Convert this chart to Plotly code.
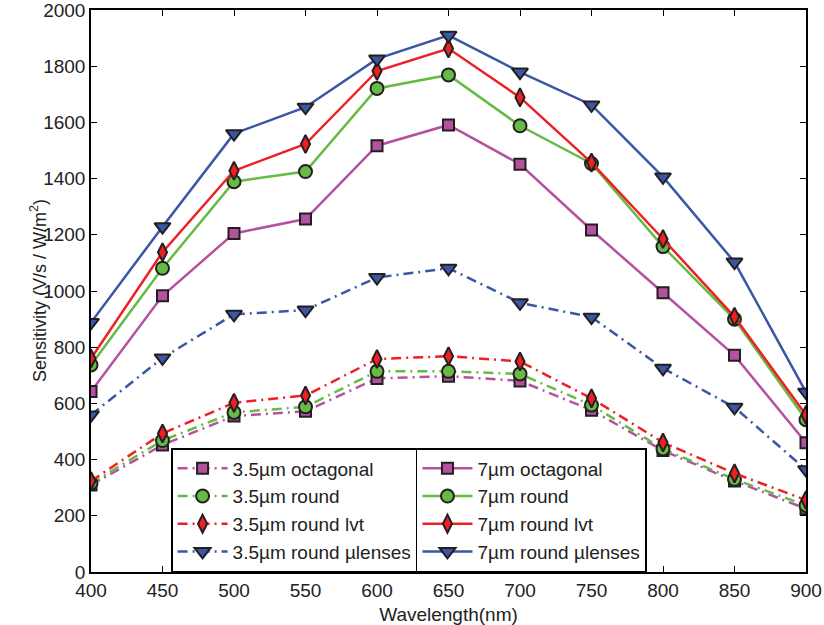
import plotly.graph_objects as go

# Wavelength samples (nm)
wavelength = [400, 450, 500, 550, 600, 650, 700, 750, 800, 850, 900]

# Sensitivity (V/s / W/m^2), 7 um pixels
s7_octagonal = [642, 983, 1205, 1256, 1517, 1591, 1451, 1217, 994, 771, 460]
s7_round = [737, 1081, 1389, 1425, 1721, 1769, 1588, 1454, 1158, 900, 542]
s7_round_lvt = [760, 1138, 1428, 1523, 1783, 1863, 1689, 1457, 1185, 908, 559]
s7_round_ulens = [888, 1229, 1560, 1654, 1826, 1910, 1779, 1662, 1406, 1103, 640]

# Sensitivity (V/s / W/m^2), 3.5 um pixels
s35_octagonal = [310, 452, 555, 572, 689, 697, 680, 576, 432, 324, 225]
s35_round = [316, 468, 568, 588, 714, 714, 705, 594, 438, 330, 237]
s35_round_lvt = [324, 493, 602, 628, 758, 768, 749, 618, 461, 351, 256]
s35_round_ulens = [559, 762, 917, 932, 1048, 1081, 958, 907, 725, 586, 364]

x_ticks = [400, 450, 500, 550, 600, 650, 700, 750, 800, 850, 900]
y_ticks = [0, 200, 400, 600, 800, 1000, 1200, 1400, 1600, 1800, 2000]

MAGENTA = "#b5529f"
GREEN = "#66bb44"
RED = "#ee2024"
BLUE = "#3a56a5"
EDGE = "#231f20"
TEXT = "#222"
FONT = "Liberation Sans, Arial, sans-serif"

series = [
    ("3.5µm octagonal", s35_octagonal, MAGENTA, "square", 11, "legend"),
    ("3.5µm round", s35_round, GREEN, "circle", 13, "legend"),
    ("3.5µm round lvt", s35_round_lvt, RED, "diamond-tall", 13, "legend"),
    ("3.5µm round µlenses", s35_round_ulens, BLUE, "triangle-down", 14, "legend"),
    ("7µm octagonal", s7_octagonal, MAGENTA, "square", 11, "legend2"),
    ("7µm round", s7_round, GREEN, "circle", 13, "legend2"),
    ("7µm round lvt", s7_round_lvt, RED, "diamond-tall", 13, "legend2"),
    ("7µm round µlenses", s7_round_ulens, BLUE, "triangle-down", 14, "legend2"),
]

fig = go.Figure()
for name, vals, color, symbol, size, leg in series:
    dashed = leg == "legend"
    fig.add_trace(go.Scatter(
        x=wavelength, y=vals, name=name, mode="lines+markers",
        line=dict(color=color, width=2.5,
                  dash="10px,5px,2px,5px" if dashed else "solid"),
        marker=dict(symbol=symbol, size=size, color=color,
                    line=dict(color=EDGE, width=2)),
        legend=leg,
    ))

legend_style = dict(
    bgcolor="white", bordercolor="black", borderwidth=1.5,
    font=dict(family=FONT, size=19, color=TEXT),
    xanchor="left", yanchor="bottom", y=0, itemwidth=50,
    tracegroupgap=0,
)

fig.update_layout(
    width=824, height=625,
    margin=dict(l=91, r=18, t=10, b=53, autoexpand=False),
    paper_bgcolor="white", plot_bgcolor="white",
    font=dict(family=FONT, size=19, color=TEXT),
    showlegend=True,
    legend=dict(x=0.112, **legend_style),
    legend2=dict(x=0.4545, **legend_style),
)

axis_common = dict(
    showline=True, linecolor="black", linewidth=1.5, mirror="ticks",
    ticks="inside", ticklen=6, tickwidth=1, tickcolor="black",
    showgrid=False, zeroline=False, automargin=False,
    ticklabeloverflow="allow",
    tickfont=dict(family=FONT, size=19, color=TEXT),
)

fig.update_xaxes(
    range=[400, 900], tickvals=x_ticks,
    title=dict(text="Wavelength(nm)", font=dict(family=FONT, size=19, color=TEXT)),
    **axis_common,
)
fig.update_yaxes(range=[0, 2000], tickvals=y_ticks, **axis_common)

# Rotated y-axis title placed just left of the tick labels
fig.add_annotation(
    text="Sensitivity (V/s / W/m<sup>2</sup>)",
    xref="paper", yref="paper", x=-0.074, y=0.5,
    xanchor="center", yanchor="middle", textangle=-90, showarrow=False,
    font=dict(family=FONT, size=18, color=TEXT),
)

fig.write_html("out.html")
